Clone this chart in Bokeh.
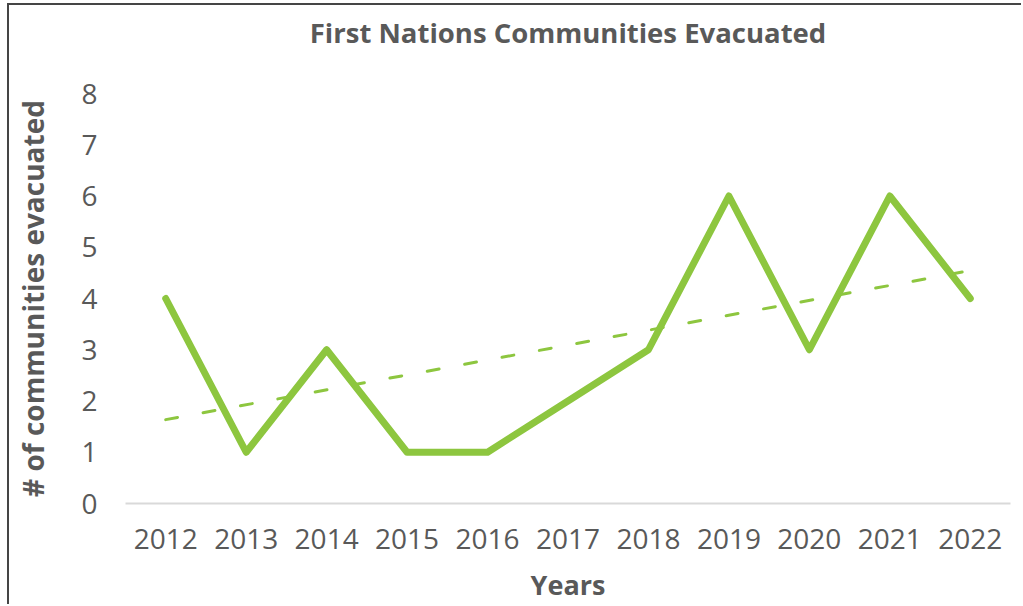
import numpy as np
from bokeh.plotting import figure
from bokeh.models import Range1d, FactorRange, Title
from bokeh.embed import file_html
from bokeh.resources import INLINE

years = ["2012", "2013", "2014", "2015", "2016", "2017", "2018", "2019", "2020", "2021", "2022"]
evacuated = [4, 1, 3, 1, 1, 2, 3, 6, 3, 6, 4]
y_ticks = [0, 1, 2, 3, 4, 5, 6, 7, 8]
title_text = "First Nations Communities Evacuated"

# linear trendline from data
xi = np.arange(len(years))
slope, intercept = np.polyfit(xi, evacuated, 1)
trend = [intercept + slope * x for x in (0, len(years) - 1)]

GREEN = "#8DC63F"
GRAY = "#595959"
FONT = "Open Sans"

p = figure(width=1014, height=601, x_range=FactorRange(*years), y_range=Range1d(0, 8),
           title=None, output_backend="svg", toolbar_location=None,
           min_border_left=116, min_border_right=13, min_border_top=88, min_border_bottom=103)
p.styles = {"margin-left": "7px", "margin-top": "3px",
            "border-left": "2px solid #454545", "border-top": "2px solid #454545"}

p.line(years, evacuated, line_color=GREEN, line_width=7, line_join="round", line_cap="round")
p.line([years[0], years[-1]], trend, line_color=GREEN, line_width=3, line_dash="12 26",
       line_cap="round")

# spacer between frame and title, then the title itself
p.add_layout(Title(text=" ", text_font_size="1px", standoff=36), "above")
p.add_layout(Title(text=title_text, align="center", text_font=FONT, text_font_style="bold",
                   text_font_size="27.5px", text_color=GRAY, standoff=8), "above")

p.grid.visible = False
p.outline_line_color = None

xa = p.xaxis[0]
xa.axis_line_color = "#D9D9D9"
xa.axis_line_width = 2
xa.major_tick_line_color = None
xa.minor_tick_line_color = None
xa.major_label_text_font = FONT
xa.major_label_text_font_size = "28px"
xa.major_label_text_color = GRAY
xa.major_label_standoff = 19
xa.axis_label = "Years"
xa.axis_label_text_font = FONT
xa.axis_label_text_font_style = "bold"
xa.axis_label_text_font_size = "27px"
xa.axis_label_text_color = GRAY
xa.axis_label_standoff = 14

ya = p.yaxis[0]
ya.ticker = y_ticks
ya.axis_line_color = None
ya.major_tick_line_color = None
ya.minor_tick_line_color = None
ya.major_label_text_font = FONT
ya.major_label_text_font_size = "28px"
ya.major_label_text_color = GRAY
ya.major_label_standoff = 22
ya.axis_label = "# of communities evacuated"
ya.axis_label_text_font = FONT
ya.axis_label_text_font_style = "bold"
ya.axis_label_text_font_size = "28px"
ya.axis_label_text_color = GRAY
ya.axis_label_standoff = 26

open("out.html", "w").write(file_html(p, INLINE))
